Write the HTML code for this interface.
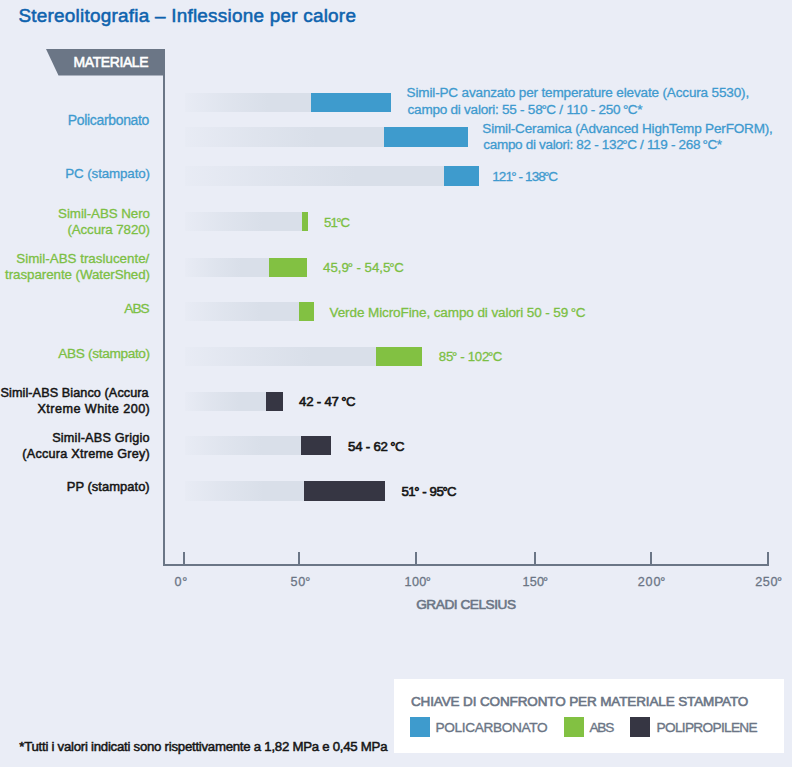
<!DOCTYPE html>
<html><head><meta charset="utf-8"><style>
html,body{margin:0;padding:0;}
body{width:792px;height:767px;background:#eaedf6;position:relative;overflow:hidden;font-family:"Liberation Sans",sans-serif;}
.t{position:absolute;white-space:nowrap;}
.b{position:absolute;}
.dg{margin:0 -0.3px 0 -1px;}
.g{position:absolute;background:linear-gradient(to right,rgba(217,223,233,0.12) 0%,rgba(217,223,233,0.6) 32%,#d9dfe9 66%,#d9dfe9 100%);}
</style></head><body>
<svg style="position:absolute;left:0;top:0" width="792" height="767">
<polygon points="46,49 165,49 165,75.5 58.5,75.5" fill="#6b7686"/>
</svg>
<div class="b" style="left:163px;top:49px;width:2px;height:517px;background:#6b7686"></div>
<div class="b" style="left:163px;top:564px;width:606px;height:2px;background:#6b7686"></div>
<div class="b" style="left:183px;top:552px;width:2px;height:12px;background:#6b7686"></div><div class="b" style="left:298px;top:552px;width:2px;height:12px;background:#6b7686"></div><div class="b" style="left:415px;top:552px;width:2px;height:12px;background:#6b7686"></div><div class="b" style="left:534px;top:552px;width:2px;height:12px;background:#6b7686"></div><div class="b" style="left:650px;top:552px;width:2px;height:12px;background:#6b7686"></div><div class="b" style="left:767px;top:552px;width:2px;height:12px;background:#6b7686"></div>
<div class="g" style="left:185px;top:93px;width:126px;height:19px"></div><div class="b" style="left:311px;top:93px;width:80px;height:19px;background:#3e9bcd"></div><div class="g" style="left:185px;top:127px;width:199px;height:20px"></div><div class="b" style="left:384px;top:127px;width:84px;height:20px;background:#3e9bcd"></div><div class="g" style="left:185px;top:166px;width:259px;height:20px"></div><div class="b" style="left:444px;top:166px;width:35px;height:20px;background:#3e9bcd"></div><div class="g" style="left:185px;top:212px;width:117px;height:19px"></div><div class="b" style="left:302px;top:212px;width:6px;height:19px;background:#82c142"></div><div class="g" style="left:185px;top:258px;width:84px;height:19px"></div><div class="b" style="left:269px;top:258px;width:38px;height:19px;background:#82c142"></div><div class="g" style="left:185px;top:302px;width:114px;height:19px"></div><div class="b" style="left:299px;top:302px;width:15px;height:19px;background:#82c142"></div><div class="g" style="left:185px;top:347px;width:191px;height:19px"></div><div class="b" style="left:376px;top:347px;width:46px;height:19px;background:#82c142"></div><div class="g" style="left:185px;top:392px;width:81px;height:19px"></div><div class="b" style="left:266px;top:392px;width:17px;height:19px;background:#363643"></div><div class="g" style="left:185px;top:436px;width:116px;height:19px"></div><div class="b" style="left:301px;top:436px;width:30px;height:19px;background:#363643"></div><div class="g" style="left:185px;top:481px;width:119px;height:20px"></div><div class="b" style="left:304px;top:481px;width:81px;height:20px;background:#363643"></div>
<div class="b" style="left:394px;top:679px;width:390px;height:74px;background:#ffffff"></div>
<div class="b" style="left:410px;top:717px;width:20px;height:20px;background:#3e9bcd"></div>
<div class="b" style="left:564px;top:717px;width:20px;height:20px;background:#82c142"></div>
<div class="b" style="left:630px;top:717px;width:20px;height:20px;background:#363643"></div>
<div class="t" style="left:18.40px;top:6.80px;font-size:18.9px;line-height:18.9px;font-weight:normal;letter-spacing:0.247px;color:#0e63ae;-webkit-text-stroke:0.55px #0e63ae;">Stereolitografia – Inflessione per calore</div>
<div class="t" style="left:73.50px;top:56.19px;font-size:13.95px;line-height:13.95px;font-weight:normal;letter-spacing:-0.371px;color:#ffffff;-webkit-text-stroke:0.55px #ffffff;">MATERIALE</div>
<div class="t" style="left:67.80px;top:114.09px;font-size:13.95px;line-height:13.95px;font-weight:normal;letter-spacing:-0.307px;color:#3e9acf;-webkit-text-stroke:0.3px #3e9acf;">Policarbonato</div>
<div class="t" style="left:65.30px;top:167.28px;font-size:13.37px;line-height:13.37px;font-weight:normal;letter-spacing:-0.114px;color:#3e9acf;-webkit-text-stroke:0.3px #3e9acf;">PC (stampato)</div>
<div class="t" style="left:58.10px;top:207.48px;font-size:13.37px;line-height:13.37px;font-weight:normal;letter-spacing:-0.066px;color:#7cbf44;-webkit-text-stroke:0.3px #7cbf44;">Simil-ABS Nero</div>
<div class="t" style="left:67.40px;top:223.38px;font-size:13.37px;line-height:13.37px;font-weight:normal;letter-spacing:-0.105px;color:#7cbf44;-webkit-text-stroke:0.3px #7cbf44;">(Accura 7820)</div>
<div class="t" style="left:16.30px;top:251.68px;font-size:13.37px;line-height:13.37px;font-weight:normal;letter-spacing:0.006px;color:#7cbf44;-webkit-text-stroke:0.3px #7cbf44;">Simil-ABS traslucente/</div>
<div class="t" style="left:5.10px;top:268.48px;font-size:13.37px;line-height:13.37px;font-weight:normal;letter-spacing:-0.072px;color:#7cbf44;-webkit-text-stroke:0.3px #7cbf44;">trasparente (WaterShed)</div>
<div class="t" style="left:124.30px;top:302.24px;font-size:13.66px;line-height:13.66px;font-weight:normal;letter-spacing:-0.959px;color:#7cbf44;-webkit-text-stroke:0.3px #7cbf44;">ABS</div>
<div class="t" style="left:58.30px;top:347.14px;font-size:13.66px;line-height:13.66px;font-weight:normal;letter-spacing:-0.349px;color:#7cbf44;-webkit-text-stroke:0.3px #7cbf44;">ABS (stampato)</div>
<div class="t" style="left:0.50px;top:386.89px;font-size:12.65px;line-height:12.65px;font-weight:normal;letter-spacing:0.088px;color:#151515;-webkit-text-stroke:0.5px #151515;">Simil-ABS Bianco (Accura</div>
<div class="t" style="left:37.50px;top:402.99px;font-size:12.65px;line-height:12.65px;font-weight:normal;letter-spacing:0.433px;color:#151515;-webkit-text-stroke:0.5px #151515;">Xtreme White 200)</div>
<div class="t" style="left:52.20px;top:431.89px;font-size:12.65px;line-height:12.65px;font-weight:normal;letter-spacing:0.221px;color:#151515;-webkit-text-stroke:0.5px #151515;">Simil-ABS Grigio</div>
<div class="t" style="left:22.30px;top:448.49px;font-size:12.65px;line-height:12.65px;font-weight:normal;letter-spacing:0.242px;color:#151515;-webkit-text-stroke:0.5px #151515;">(Accura Xtreme Grey)</div>
<div class="t" style="left:66.80px;top:481.35px;font-size:12.94px;line-height:12.94px;font-weight:normal;letter-spacing:0.035px;color:#151515;-webkit-text-stroke:0.5px #151515;">PP (stampato)</div>
<div class="t" style="left:406.60px;top:86.46px;font-size:13.52px;line-height:13.52px;font-weight:normal;letter-spacing:-0.150px;color:#3e9acf;-webkit-text-stroke:0.3px #3e9acf;">Simil-PC avanzato per temperature elevate (Accura 5530),</div>
<div class="t" style="left:407.60px;top:103.16px;font-size:13.52px;line-height:13.52px;font-weight:normal;letter-spacing:-0.235px;color:#3e9acf;-webkit-text-stroke:0.3px #3e9acf;">campo di valori: 55 - 58<span class="dg">°</span>C / 110 - 250 <span class="dg">°</span>C*</div>
<div class="t" style="left:482.30px;top:121.56px;font-size:13.52px;line-height:13.52px;font-weight:normal;letter-spacing:-0.163px;color:#3e9acf;-webkit-text-stroke:0.3px #3e9acf;">Simil-Ceramica (Advanced HighTemp PerFORM),</div>
<div class="t" style="left:483.30px;top:137.96px;font-size:13.52px;line-height:13.52px;font-weight:normal;letter-spacing:-0.318px;color:#3e9acf;-webkit-text-stroke:0.3px #3e9acf;">campo di valori: 82 - 132<span class="dg">°</span>C / 119 - 268 <span class="dg">°</span>C*</div>
<div class="t" style="left:492.20px;top:169.56px;font-size:13.52px;line-height:13.52px;font-weight:normal;letter-spacing:-0.838px;color:#3e9acf;-webkit-text-stroke:0.3px #3e9acf;">121<span class="dg">°</span> - 138<span class="dg">°</span>C</div>
<div class="t" style="left:323.90px;top:215.60px;font-size:13.23px;line-height:13.23px;font-weight:normal;letter-spacing:-0.663px;color:#7cbf44;-webkit-text-stroke:0.3px #7cbf44;">51<span class="dg">°</span>C</div>
<div class="t" style="left:323.10px;top:260.50px;font-size:13.23px;line-height:13.23px;font-weight:normal;letter-spacing:0.002px;color:#7cbf44;-webkit-text-stroke:0.3px #7cbf44;">45,9<span class="dg">°</span> - 54,5<span class="dg">°</span>C</div>
<div class="t" style="left:329.50px;top:305.76px;font-size:13.52px;line-height:13.52px;font-weight:normal;letter-spacing:-0.100px;color:#7cbf44;-webkit-text-stroke:0.3px #7cbf44;">Verde MicroFine, campo di valori 50 - 59 <span class="dg">°</span>C</div>
<div class="t" style="left:438.80px;top:349.50px;font-size:13.23px;line-height:13.23px;font-weight:normal;letter-spacing:-0.248px;color:#7cbf44;-webkit-text-stroke:0.3px #7cbf44;">85<span class="dg">°</span> - 102<span class="dg">°</span>C</div>
<div class="t" style="left:299.10px;top:394.90px;font-size:13.23px;line-height:13.23px;font-weight:normal;letter-spacing:-0.224px;color:#151515;-webkit-text-stroke:0.6px #151515;">42 - 47 <span class="dg">°</span>C</div>
<div class="t" style="left:348.00px;top:439.70px;font-size:13.23px;line-height:13.23px;font-weight:normal;letter-spacing:-0.201px;color:#151515;-webkit-text-stroke:0.6px #151515;">54 - 62 <span class="dg">°</span>C</div>
<div class="t" style="left:401.40px;top:484.70px;font-size:13.23px;line-height:13.23px;font-weight:normal;letter-spacing:-0.392px;color:#151515;-webkit-text-stroke:0.6px #151515;">51<span class="dg">°</span> - 95<span class="dg">°</span>C</div>
<div class="t" style="left:174.60px;top:576.39px;font-size:12.65px;line-height:12.65px;font-weight:normal;letter-spacing:1.670px;color:#6b7585;-webkit-text-stroke:0.3px #6b7585;">0<span class="dg">°</span></div>
<div class="t" style="left:290.40px;top:576.39px;font-size:12.65px;line-height:12.65px;font-weight:normal;letter-spacing:0.870px;color:#6b7585;-webkit-text-stroke:0.3px #6b7585;">50<span class="dg">°</span></div>
<div class="t" style="left:404.50px;top:576.39px;font-size:12.65px;line-height:12.65px;font-weight:normal;letter-spacing:0.370px;color:#6b7585;-webkit-text-stroke:0.3px #6b7585;">100<span class="dg">°</span></div>
<div class="t" style="left:522.60px;top:576.39px;font-size:12.65px;line-height:12.65px;font-weight:normal;letter-spacing:0.137px;color:#6b7585;-webkit-text-stroke:0.3px #6b7585;">150<span class="dg">°</span></div>
<div class="t" style="left:637.70px;top:576.39px;font-size:12.65px;line-height:12.65px;font-weight:normal;letter-spacing:0.837px;color:#6b7585;-webkit-text-stroke:0.3px #6b7585;">200<span class="dg">°</span></div>
<div class="t" style="left:755.20px;top:576.39px;font-size:12.65px;line-height:12.65px;font-weight:normal;letter-spacing:0.603px;color:#6b7585;-webkit-text-stroke:0.3px #6b7585;">250<span class="dg">°</span></div>
<div class="t" style="left:416.20px;top:598.14px;font-size:13.66px;line-height:13.66px;font-weight:normal;letter-spacing:-0.464px;color:#6b7585;-webkit-text-stroke:0.6px #6b7585;">GRADI CELSIUS</div>
<div class="t" style="left:411.00px;top:694.56px;font-size:13.52px;line-height:13.52px;font-weight:normal;letter-spacing:-0.137px;color:#6b7585;-webkit-text-stroke:0.6px #6b7585;">CHIAVE DI CONFRONTO PER MATERIALE STAMPATO</div>
<div class="t" style="left:435.50px;top:721.44px;font-size:13.66px;line-height:13.66px;font-weight:normal;letter-spacing:-0.361px;color:#6b7585;-webkit-text-stroke:0.35px #6b7585;">POLICARBONATO</div>
<div class="t" style="left:589.40px;top:721.44px;font-size:13.66px;line-height:13.66px;font-weight:normal;letter-spacing:-1.159px;color:#6b7585;-webkit-text-stroke:0.35px #6b7585;">ABS</div>
<div class="t" style="left:656.60px;top:721.44px;font-size:13.66px;line-height:13.66px;font-weight:normal;letter-spacing:-0.690px;color:#6b7585;-webkit-text-stroke:0.35px #6b7585;">POLIPROPILENE</div>
<div class="t" style="left:19.30px;top:739.80px;font-size:13.23px;line-height:13.23px;font-weight:normal;letter-spacing:-0.258px;color:#151515;-webkit-text-stroke:0.5px #151515;">*Tutti i valori indicati sono rispettivamente a 1,82 MPa e 0,45 MPa</div>
</body></html>
